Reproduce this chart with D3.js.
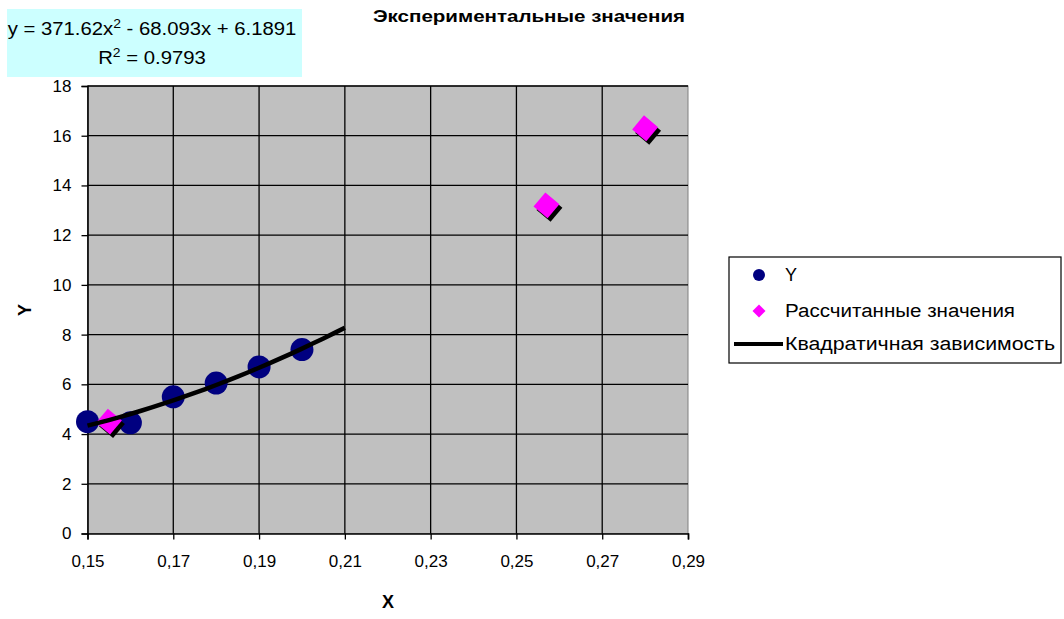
<!DOCTYPE html>
<html>
<head>
<meta charset="utf-8">
<script src="https://cdn.jsdelivr.net/npm/d3@7"></script>
<style>
  html, body { margin: 0; padding: 0; background: #fff; }
  svg { display: block; font-family: Arial, "Liberation Sans", sans-serif; }
</style>
</head>
<body>
<svg id="chart" width="1064" height="619"></svg>
<script>
// Measured points
const xObserved = [0.15, 0.16, 0.17, 0.18, 0.19, 0.20];
const yObserved = [4.5, 4.45, 5.5, 6.05, 6.7, 7.4];

// Values computed from the fitted model
const xComputed = [0.155, 0.257, 0.28];
const yComputed = [4.5, 13.2, 16.3];

// Quadratic trend: a*x^2 + b*x + c, drawn over this x span
const trendCoef = [371.62, -68.093, 6.1891];
const trendSpan = [0.15, 0.21];

const xTicks = [0.15, 0.17, 0.19, 0.21, 0.23, 0.25, 0.27, 0.29];
const yTicks = [0, 2, 4, 6, 8, 10, 12, 14, 16, 18];

const legendLabels = ["Y", "Рассчитанные значения", "Квадратичная зависимость"];

const svg = d3.select("#chart");
const plot = { left: 87.5, top: 86, right: 688, bottom: 533.5 };

const x = d3.scaleLinear().domain([0.15, 0.29]).range([plot.left, plot.right]);
const y = d3.scaleLinear().domain([0, 18]).range([plot.bottom, plot.top]);

// Plot background
svg.append("rect")
  .attr("x", plot.left).attr("y", plot.top)
  .attr("width", plot.right - plot.left).attr("height", plot.bottom - plot.top)
  .attr("fill", "#c0c0c0").attr("stroke", "#808080").attr("stroke-width", 1);

// Grid
const grid = svg.append("g").attr("stroke", "#000").attr("stroke-width", 1.3);
grid.selectAll("line.h").data(yTicks.filter(d => d > 0)).join("line")
  .attr("x1", plot.left).attr("x2", plot.right)
  .attr("y1", d => y(d)).attr("y2", d => y(d));
grid.selectAll("line.v").data(xTicks.filter(d => d > 0.15 && d < 0.29)).join("line")
  .attr("y1", plot.top).attr("y2", plot.bottom)
  .attr("x1", d => x(d)).attr("x2", d => x(d));

// Axes
const fmtX = d => d3.format(".2f")(d).replace(".", ",");
const xAxis = d3.axisBottom(x).tickValues(xTicks).tickFormat(fmtX).tickSize(6).tickPadding(13);
const yAxis = d3.axisLeft(y).tickValues(yTicks).tickFormat(d3.format("d")).tickSize(6).tickPadding(10);

const gx = svg.append("g").attr("transform", `translate(0,${plot.bottom})`).call(xAxis);
const gy = svg.append("g").attr("transform", `translate(${plot.left},0)`).call(yAxis);
[gx, gy].forEach(g => {
  g.select(".domain").attr("stroke", "#000").attr("stroke-width", 1.6);
  g.selectAll(".tick line").attr("stroke", "#000").attr("stroke-width", 1.3);
  g.selectAll(".tick text").attr("fill", "#000").attr("font-size", 17)
    .attr("font-family", "Arial, 'Liberation Sans', sans-serif");
});
gx.selectAll(".tick text").attr("dy", "0.85em");

// Observed points
svg.append("g").selectAll("circle").data(xObserved).join("circle")
  .attr("cx", (d) => x(d)).attr("cy", (d, i) => y(yObserved[i]))
  .attr("r", 11.5).attr("fill", "#000080");

// Computed points: diamonds with a dark offset shadow
const diamond = s => `M0,${-s} L${s},0 L0,${s} L${-s},0 Z`;
const comp = svg.append("g");
const compData = xComputed.map((d, i) => ({ x: d, y: yComputed[i] }));
comp.selectAll("path.shadow").data(compData).join("path")
  .attr("class", "shadow")
  .attr("transform", d => `translate(${x(d.x) + 3},${y(d.y) + 3.5}) rotate(-5)`)
  .attr("d", diamond(13)).attr("fill", "#000");
comp.selectAll("path.mark").data(compData).join("path")
  .attr("class", "mark")
  .attr("transform", d => `translate(${x(d.x)},${y(d.y)}) rotate(-5)`)
  .attr("d", diamond(13)).attr("fill", "#ff00ff");

// Trend curve from the stated coefficients
const trendX = d3.range(trendSpan[0], trendSpan[1] + 1e-9, 0.0025);
const trendFn = v => trendCoef[0] * v * v + trendCoef[1] * v + trendCoef[2];
svg.append("path")
  .datum(trendX)
  .attr("fill", "none").attr("stroke", "#000").attr("stroke-width", 4.5)
  .attr("d", d3.line().x(d => x(d)).y(d => y(trendFn(d))));

// Equation box
svg.append("rect").attr("x", 7).attr("y", 9).attr("width", 295).attr("height", 68)
  .attr("fill", "#ccffff");
const eqG = svg.append("g").attr("transform", "translate(152,0) scale(1.16,1)");
const eq = eqG.append("text").attr("x", 0).attr("y", 35).attr("text-anchor", "middle")
  .attr("font-size", 17.5).attr("fill", "#000");
eq.append("tspan").text("y = 371.62x");
eq.append("tspan").attr("dy", -7).attr("font-size", 12).text("2");
eq.append("tspan").attr("dy", 7).text(" - 68.093x + 6.1891");
const r2 = eqG.append("text").attr("x", 0).attr("y", 64).attr("text-anchor", "middle")
  .attr("font-size", 17.5).attr("fill", "#000");
r2.append("tspan").text("R");
r2.append("tspan").attr("dy", -7).attr("font-size", 12).text("2");
r2.append("tspan").attr("dy", 7).text(" = 0.9793");

// Title
svg.append("text").attr("x", 373).attr("y", 22)
  .attr("font-size", 16).attr("font-weight", "bold").attr("fill", "#000")
  .attr("textLength", 312).attr("lengthAdjust", "spacingAndGlyphs")
  .text("Экспериментальные значения");

// Axis titles
svg.append("text").attr("x", 388).attr("y", 608).attr("text-anchor", "middle")
  .attr("font-size", 18).attr("font-weight", "bold").text("X");
svg.append("text").attr("transform", "translate(31,310) rotate(-90)")
  .attr("text-anchor", "middle").attr("font-size", 18).attr("font-weight", "bold").text("Y");

// Legend
const lg = svg.append("g");
lg.append("rect").attr("x", 729).attr("y", 257).attr("width", 332).attr("height", 106)
  .attr("fill", "#fff").attr("stroke", "#000").attr("stroke-width", 1.2);
lg.append("circle").attr("cx", 759).attr("cy", 275).attr("r", 6).attr("fill", "#000080");
lg.append("path").attr("transform", "translate(759,311)").attr("d", diamond(6.5)).attr("fill", "#ff00ff");
lg.append("line").attr("x1", 734).attr("x2", 783).attr("y1", 344).attr("y2", 344)
  .attr("stroke", "#000").attr("stroke-width", 4);
const legendWidths = [null, 230, 270];
lg.selectAll("text").data(legendLabels).join("text")
  .attr("x", 785)
  .attr("y", (d, i) => [275, 311, 344][i])
  .attr("dy", "0.35em").attr("font-size", 18).attr("fill", "#000")
  .each(function (d, i) {
    if (legendWidths[i]) {
      d3.select(this).attr("textLength", legendWidths[i]).attr("lengthAdjust", "spacingAndGlyphs");
    }
  })
  .text(d => d);
</script>
</body>
</html>
